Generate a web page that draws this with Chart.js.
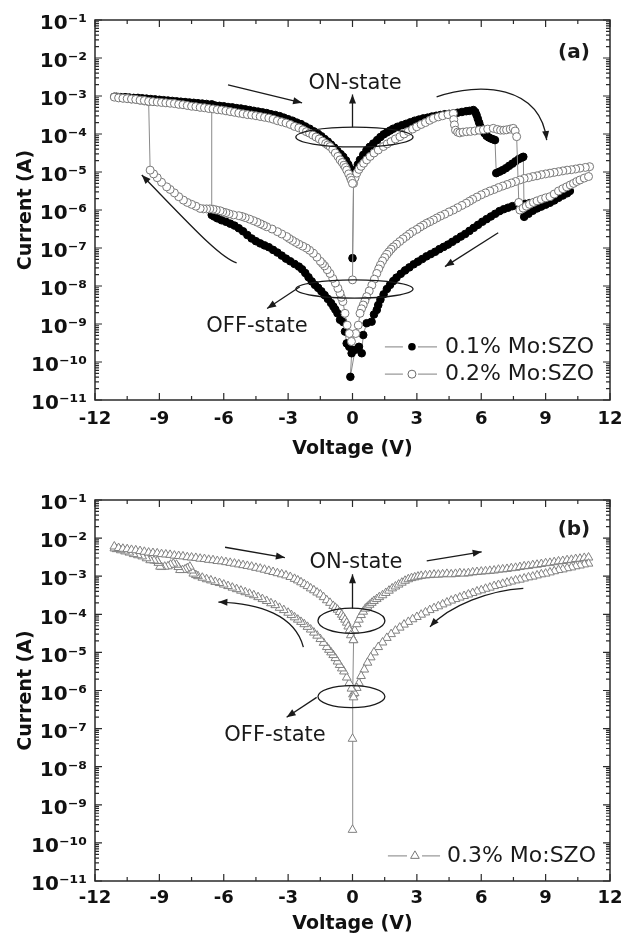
<!DOCTYPE html>
<html>
<head>
<meta charset="utf-8">
<script src="https://cdn.jsdelivr.net/npm/chart.js@4/dist/chart.umd.min.js"></script>
<style>
body{margin:0;background:#fff;}
#wrap{position:relative;width:635px;height:936px;}
canvas{position:absolute;left:0;}
</style>
</head>
<body>
<div id="wrap">
<canvas id="ca" width="635" height="468" style="top:0"></canvas>
<canvas id="cb" width="635" height="468" style="top:468px"></canvas>
</div>
<script>
// ---------- data (Voltage V, Current A), in sweep order ----------
const xTickValues = [-12, -9, -6, -3, 0, 3, 6, 9, 12];
const xTickLabels = ['-12', '-9', '-6', '-3', '0', '3', '6', '9', '12'];
const xMinorTicks = [-10.5, -7.5, -4.5, -1.5, 1.5, 4.5, 7.5, 10.5];
const yTickValues = [1e-11, 1e-10, 1e-9, 1e-8, 1e-7, 1e-6, 1e-5, 1e-4, 1e-3, 1e-2, 1e-1];
const yTickLabels = ['10⁻¹¹', '10⁻¹⁰', '10⁻⁹', '10⁻⁸', '10⁻⁷', '10⁻⁶', '10⁻⁵', '10⁻⁴', '10⁻³', '10⁻²', '10⁻¹'];
const xTitle = 'Voltage (V)';
const yTitle = 'Current (A)';
const seriesNamesA = ['0.1% Mo:SZO', '0.2% Mo:SZO'];
const seriesNamesB = ['0.3% Mo:SZO'];

// 0.1% Mo:SZO (filled circles)
const mo01 = [
[0.00,5.4e-8],
[0.05,7.6e-6],[0.15,1.12e-5],[0.25,1.58e-5],[0.35,2.09e-5],[0.50,2.82e-5],[0.65,3.72e-5],[0.80,4.57e-5],[0.97,5.62e-5],[1.15,6.92e-5],[1.30,8.32e-5],[1.45,9.77e-5],[1.60,1.10e-4],[1.75,1.23e-4],[1.90,1.38e-4],[2.10,1.55e-4],[2.30,1.70e-4],[2.50,1.86e-4],[2.70,2.04e-4],[2.90,2.24e-4],[3.10,2.40e-4],[3.30,2.57e-4],[3.50,2.69e-4],[3.70,2.88e-4],[3.90,3.02e-4],[4.10,3.16e-4],[4.30,3.31e-4],[4.50,3.39e-4],[4.70,3.47e-4],[4.90,3.63e-4],[5.10,3.80e-4],[5.30,3.98e-4],[5.45,4.07e-4],[5.63,4.27e-4],[5.72,3.80e-4],[5.78,3.16e-4],[5.84,2.51e-4],[5.90,2.00e-4],[5.96,1.58e-4],[6.05,1.26e-4],[6.15,1.05e-4],[6.25,8.91e-5],[6.35,8.13e-5],[6.45,7.59e-5],[6.55,7.24e-5],[6.64,6.92e-5],
[6.70,9.33e-6],[6.85,1.02e-5],[7.00,1.12e-5],[7.15,1.26e-5],[7.30,1.45e-5],[7.45,1.66e-5],[7.60,1.91e-5],[7.75,2.19e-5],[7.90,2.40e-5],[7.96,2.51e-5],
[8.00,6.61e-7],[8.20,7.94e-7],[8.40,9.55e-7],[8.60,1.10e-6],[8.80,1.23e-6],[9.00,1.38e-6],[9.20,1.55e-6],[9.40,1.78e-6],[9.60,2.09e-6],[9.80,2.40e-6],[10.00,2.75e-6],[10.13,3.16e-6],
[10.05,3.16e-6],[9.85,2.82e-6],[9.65,2.51e-6],[9.45,2.29e-6],[9.25,2.09e-6],[9.05,1.95e-6],[8.85,1.82e-6],[8.65,1.70e-6],[8.45,1.58e-6],[8.25,1.51e-6],[8.05,1.45e-6],[7.85,1.38e-6],[7.65,1.32e-6],[7.45,1.26e-6],[7.25,1.15e-6],[7.05,1.05e-6],[6.85,9.33e-7],[6.65,7.94e-7],[6.45,6.76e-7],[6.25,5.75e-7],[6.05,4.90e-7],[5.85,4.07e-7],[5.65,3.39e-7],[5.45,2.82e-7],[5.25,2.34e-7],[5.05,2.00e-7],[4.85,1.70e-7],[4.65,1.45e-7],[4.45,1.23e-7],[4.25,1.07e-7],[4.05,9.33e-8],[3.85,7.94e-8],[3.65,6.92e-8],[3.45,6.03e-8],[3.25,5.13e-8],[3.05,4.37e-8],[2.85,3.72e-8],[2.65,3.09e-8],[2.45,2.57e-8],[2.25,2.09e-8],[2.05,1.66e-8],[1.90,1.35e-8],[1.75,1.07e-8],[1.60,8.32e-9],[1.45,6.03e-9],[1.30,4.37e-9],[1.20,3.16e-9],[1.13,2.34e-9],[1.00,1.78e-9],[0.89,1.15e-9],[0.66,1.05e-9],[0.50,5.13e-10],[0.43,1.70e-10],[0.30,2.51e-10],[0.12,2.09e-10],[-0.10,4.07e-11],
[-0.04,1.70e-10],[-0.15,2.51e-10],[-0.27,3.09e-10],[-0.35,6.31e-10],[-0.43,1.12e-9],[-0.58,1.29e-9],[-0.70,1.91e-9],[-0.80,2.40e-9],[-0.89,2.88e-9],[-1.00,3.55e-9],[-1.15,4.57e-9],[-1.30,5.75e-9],[-1.45,7.24e-9],[-1.60,8.91e-9],[-1.75,1.07e-8],[-1.90,1.32e-8],[-2.05,1.70e-8],[-2.20,2.19e-8],[-2.35,2.75e-8],[-2.50,3.24e-8],[-2.70,3.80e-8],[-2.90,4.47e-8],[-3.10,5.25e-8],[-3.30,6.31e-8],[-3.50,7.59e-8],[-3.70,8.91e-8],[-3.90,1.05e-7],[-4.10,1.17e-7],[-4.30,1.32e-7],[-4.50,1.51e-7],[-4.70,1.78e-7],[-4.90,2.19e-7],[-5.10,2.75e-7],[-5.30,3.31e-7],[-5.50,3.89e-7],[-5.70,4.37e-7],[-5.90,4.90e-7],[-6.10,5.37e-7],[-6.30,6.03e-7],[-6.45,6.76e-7],[-6.56,7.41e-7],
[-6.56,6.03e-4],[-6.80,6.17e-4],[-7.00,6.31e-4],[-7.20,6.46e-4],[-7.40,6.61e-4],[-7.60,6.76e-4],[-7.80,6.92e-4],[-8.00,7.08e-4],[-8.20,7.24e-4],[-8.40,7.41e-4],[-8.60,7.59e-4],[-8.80,7.76e-4],[-9.00,7.94e-4],[-9.20,8.13e-4],[-9.40,8.32e-4],[-9.60,8.51e-4],[-9.80,8.71e-4],[-10.00,8.91e-4],[-10.20,8.91e-4],[-10.40,9.12e-4],[-10.60,9.33e-4],[-10.80,9.33e-4],[-11.00,9.55e-4],[-11.10,9.55e-4],
[-10.90,9.33e-4],[-10.50,8.91e-4],[-10.10,8.51e-4],[-9.70,8.13e-4],[-9.30,7.76e-4],[-8.90,7.41e-4],[-8.50,7.08e-4],[-8.10,6.76e-4],[-7.70,6.46e-4],[-7.30,6.17e-4],[-6.90,5.89e-4],[-6.60,5.75e-4],[-6.40,5.62e-4],[-6.20,5.50e-4],[-6.00,5.37e-4],[-5.80,5.13e-4],[-5.60,5.01e-4],[-5.40,4.79e-4],[-5.20,4.68e-4],[-5.00,4.47e-4],[-4.80,4.27e-4],[-4.60,4.07e-4],[-4.40,3.89e-4],[-4.20,3.72e-4],[-4.00,3.55e-4],[-3.80,3.31e-4],[-3.60,3.16e-4],[-3.40,2.95e-4],[-3.20,2.69e-4],[-3.00,2.45e-4],[-2.80,2.24e-4],[-2.60,2.00e-4],[-2.40,1.82e-4],[-2.20,1.58e-4],[-2.00,1.38e-4],[-1.80,1.17e-4],[-1.60,1.00e-4],[-1.45,8.71e-5],[-1.30,7.41e-5],[-1.15,6.31e-5],[-1.00,5.25e-5],[-0.85,4.37e-5],[-0.70,3.55e-5],[-0.55,2.95e-5],[-0.43,2.51e-5],[-0.30,2.00e-5],[-0.20,1.58e-5],[-0.12,1.26e-5],[-0.05,1.00e-5],[0.00,7.59e-6]
];

// 0.2% Mo:SZO (open circles)
const mo02 = [
[0.00,1.45e-8],
[0.05,5.01e-6],[0.12,7.08e-6],[0.20,9.33e-6],[0.30,1.17e-5],[0.40,1.41e-5],[0.52,1.70e-5],[0.66,2.09e-5],[0.82,2.57e-5],[1.00,3.16e-5],[1.20,3.80e-5],[1.44,4.68e-5],[1.62,5.50e-5],[1.80,6.31e-5],[2.00,7.41e-5],[2.21,8.51e-5],[2.40,1.00e-4],[2.60,1.17e-4],[2.80,1.35e-4],[2.99,1.55e-4],[3.20,1.78e-4],[3.40,2.00e-4],[3.60,2.29e-4],[3.77,2.57e-4],[4.00,2.82e-4],[4.20,3.02e-4],[4.45,3.24e-4],[4.70,3.47e-4],
[4.72,2.40e-4],[4.75,1.74e-4],[4.80,1.26e-4],[4.90,1.12e-4],[5.00,1.07e-4],[5.15,1.12e-4],[5.32,1.15e-4],[5.50,1.17e-4],[5.70,1.20e-4],[5.90,1.26e-4],[6.10,1.29e-4],[6.30,1.35e-4],[6.56,1.41e-4],[6.75,1.32e-4],[6.90,1.26e-4],[7.05,1.26e-4],[7.18,1.29e-4],[7.35,1.35e-4],[7.49,1.41e-4],[7.58,1.20e-4],[7.65,8.51e-5],
[7.75,1.58e-6],[7.80,1.00e-6],[7.95,1.12e-6],[8.10,1.26e-6],[8.25,1.41e-6],[8.43,1.58e-6],[8.60,1.74e-6],[8.80,1.91e-6],[9.00,2.09e-6],[9.20,2.24e-6],[9.40,2.63e-6],[9.60,3.16e-6],[9.80,3.63e-6],[9.98,4.07e-6],[10.15,4.57e-6],[10.30,5.01e-6],[10.45,5.62e-6],[10.60,6.17e-6],[10.80,6.92e-6],[11.00,7.59e-6],
[11.05,1.38e-5],[10.85,1.32e-5],[10.60,1.26e-5],[10.40,1.20e-5],[10.20,1.15e-5],[10.00,1.12e-5],[9.80,1.07e-5],[9.60,1.02e-5],[9.40,9.77e-6],[9.20,9.33e-6],[9.00,8.91e-6],[8.80,8.51e-6],[8.60,7.94e-6],[8.40,7.59e-6],[8.20,7.08e-6],[8.00,6.76e-6],[7.80,6.17e-6],[7.60,5.62e-6],[7.40,5.13e-6],[7.20,4.68e-6],[7.00,4.27e-6],[6.80,3.89e-6],[6.60,3.47e-6],[6.40,3.16e-6],[6.20,2.82e-6],[6.00,2.51e-6],[5.80,2.19e-6],[5.60,1.91e-6],[5.45,1.70e-6],[5.30,1.51e-6],[5.10,1.32e-6],[4.90,1.15e-6],[4.70,1.00e-6],[4.50,8.91e-7],[4.30,7.76e-7],[4.10,6.92e-7],[3.93,6.17e-7],[3.77,5.50e-7],[3.60,4.90e-7],[3.45,4.47e-7],[3.30,3.98e-7],[3.15,3.55e-7],[3.00,3.09e-7],[2.80,2.69e-7],[2.65,2.34e-7],[2.50,2.00e-7],[2.35,1.74e-7],[2.20,1.48e-7],[2.05,1.26e-7],[1.90,1.07e-7],[1.80,9.33e-8],[1.70,7.94e-8],[1.60,6.76e-8],[1.50,5.62e-8],[1.40,4.57e-8],[1.30,3.55e-8],[1.22,2.82e-8],[1.13,2.14e-8],[1.02,1.51e-8],[0.90,1.05e-8],[0.78,7.41e-9],[0.66,5.25e-9],[0.58,4.07e-9],[0.50,3.16e-9],[0.42,2.51e-9],[0.35,1.91e-9],[0.27,9.33e-10],[0.15,5.62e-10],
[-0.05,3.47e-10],[-0.15,5.62e-10],[-0.25,9.33e-10],[-0.35,1.91e-9],[-0.45,3.89e-9],[-0.52,5.01e-9],[-0.58,6.46e-9],[-0.68,8.71e-9],[-0.80,1.20e-8],[-0.92,1.58e-8],[-1.05,2.14e-8],[-1.18,2.69e-8],[-1.30,3.39e-8],[-1.40,3.89e-8],[-1.50,4.47e-8],[-1.66,5.75e-8],[-1.83,7.24e-8],[-2.00,8.71e-8],[-2.15,1.00e-7],[-2.32,1.12e-7],[-2.50,1.26e-7],[-2.65,1.41e-7],[-2.80,1.58e-7],[-2.95,1.78e-7],[-3.07,2.00e-7],[-3.30,2.34e-7],[-3.50,2.69e-7],[-3.75,3.16e-7],[-4.00,3.63e-7],[-4.15,3.98e-7],[-4.30,4.37e-7],[-4.45,4.79e-7],[-4.62,5.25e-7],[-4.80,5.75e-7],[-5.00,6.31e-7],[-5.15,6.76e-7],[-5.30,7.08e-7],[-5.55,7.41e-7],[-5.75,7.94e-7],[-5.90,8.51e-7],[-6.05,8.91e-7],[-6.17,9.55e-7],[-6.35,1.00e-6],[-6.50,1.05e-6],[-6.65,1.07e-6],[-6.80,1.07e-6],[-6.95,1.07e-6],[-7.10,1.10e-6],[-7.30,1.26e-6],[-7.50,1.41e-6],[-7.70,1.58e-6],[-7.88,1.82e-6],[-8.10,2.24e-6],[-8.30,2.82e-6],[-8.50,3.47e-6],[-8.66,4.07e-6],[-8.90,5.37e-6],[-9.10,7.08e-6],[-9.27,8.91e-6],[-9.43,1.12e-5],
[-9.50,7.08e-4],[-9.70,7.41e-4],[-9.90,7.76e-4],[-10.10,8.13e-4],[-10.30,8.32e-4],[-10.50,8.71e-4],[-10.70,8.91e-4],[-10.90,9.12e-4],[-11.10,9.33e-4],
[-10.90,8.91e-4],[-10.70,8.71e-4],[-10.50,8.51e-4],[-10.30,8.32e-4],[-10.10,8.13e-4],[-9.90,7.76e-4],[-9.70,7.59e-4],[-9.50,7.24e-4],[-9.30,7.08e-4],[-9.10,6.92e-4],[-8.90,6.76e-4],[-8.70,6.61e-4],[-8.50,6.46e-4],[-8.30,6.31e-4],[-8.10,6.03e-4],[-7.90,5.89e-4],[-7.70,5.62e-4],[-7.50,5.37e-4],[-7.30,5.25e-4],[-7.10,5.01e-4],[-6.90,4.90e-4],[-6.70,4.68e-4],[-6.50,4.57e-4],[-6.30,4.37e-4],[-6.10,4.27e-4],[-5.90,4.07e-4],[-5.70,3.89e-4],[-5.50,3.72e-4],[-5.30,3.55e-4],[-5.10,3.39e-4],[-4.90,3.24e-4],[-4.70,3.16e-4],[-4.50,3.02e-4],[-4.30,2.88e-4],[-4.10,2.75e-4],[-3.90,2.63e-4],[-3.70,2.45e-4],[-3.50,2.24e-4],[-3.30,2.09e-4],[-3.10,1.95e-4],[-2.90,1.78e-4],[-2.70,1.58e-4],[-2.50,1.45e-4],[-2.31,1.29e-4],[-2.15,1.15e-4],[-2.00,1.05e-4],[-1.85,9.33e-5],[-1.70,8.32e-5],[-1.55,7.41e-5],[-1.40,6.46e-5],[-1.25,5.62e-5],[-1.15,5.13e-5],[-1.05,4.68e-5],[-0.92,3.89e-5],[-0.80,3.16e-5],[-0.68,2.57e-5],[-0.58,2.09e-5],[-0.48,1.78e-5],[-0.40,1.51e-5],[-0.33,1.32e-5],[-0.27,1.12e-5],[-0.18,8.91e-6],[-0.10,7.08e-6],[-0.05,6.03e-6],[0.00,5.01e-6]
];

// 0.3% Mo:SZO (open triangles)
const mo03 = [
[0.00,2.2e-10],[0.00,5.4e-8],[0.02,7.9e-7],[0.05,2.1e-5],
[0.10,3.80e-5],[0.20,5.50e-5],[0.30,7.24e-5],[0.40,9.55e-5],[0.50,1.17e-4],[0.60,1.41e-4],[0.70,1.58e-4],[0.80,1.78e-4],[0.90,2.00e-4],[1.00,2.24e-4],[1.13,2.51e-4],[1.25,2.82e-4],[1.40,3.16e-4],[1.55,3.63e-4],[1.70,4.17e-4],[1.85,4.79e-4],[2.00,5.37e-4],[2.15,6.03e-4],[2.30,6.76e-4],[2.45,7.59e-4],[2.60,8.32e-4],[2.75,8.91e-4],[2.90,9.33e-4],[3.05,9.77e-4],[3.20,1.02e-3],[3.40,1.05e-3],[3.60,1.07e-3],[3.80,1.10e-3],[4.00,1.10e-3],[4.20,1.12e-3],[4.40,1.15e-3],[4.60,1.12e-3],[4.80,1.15e-3],[5.00,1.20e-3],[5.20,1.17e-3],[5.40,1.20e-3],[5.60,1.26e-3],[5.80,1.29e-3],[6.00,1.32e-3],[6.20,1.35e-3],[6.40,1.38e-3],[6.60,1.41e-3],[6.80,1.48e-3],[7.00,1.51e-3],[7.20,1.55e-3],[7.40,1.62e-3],[7.60,1.66e-3],[7.80,1.74e-3],[8.00,1.82e-3],[8.20,1.86e-3],[8.40,1.95e-3],[8.60,2.00e-3],[8.80,2.09e-3],[9.00,2.19e-3],[9.20,2.24e-3],[9.40,2.34e-3],[9.60,2.45e-3],[9.80,2.51e-3],[10.00,2.63e-3],[10.20,2.69e-3],[10.40,2.82e-3],[10.60,2.88e-3],[10.80,3.02e-3],[11.00,3.09e-3],
[11.00,2.14e-3],[10.80,2.04e-3],[10.60,1.91e-3],[10.40,1.82e-3],[10.20,1.70e-3],[10.00,1.62e-3],[9.80,1.51e-3],[9.60,1.45e-3],[9.40,1.35e-3],[9.20,1.26e-3],[9.00,1.17e-3],[8.80,1.12e-3],[8.60,1.05e-3],[8.40,9.77e-4],[8.20,9.33e-4],[8.00,8.71e-4],[7.80,8.13e-4],[7.60,7.76e-4],[7.40,7.24e-4],[7.20,6.76e-4],[7.00,6.31e-4],[6.80,5.89e-4],[6.60,5.50e-4],[6.40,5.01e-4],[6.20,4.68e-4],[6.00,4.27e-4],[5.80,3.98e-4],[5.60,3.63e-4],[5.40,3.31e-4],[5.20,3.02e-4],[5.00,2.75e-4],[4.80,2.51e-4],[4.60,2.29e-4],[4.40,2.04e-4],[4.20,1.82e-4],[4.00,1.62e-4],[3.80,1.45e-4],[3.60,1.29e-4],[3.40,1.12e-4],[3.20,9.77e-5],[3.00,8.51e-5],[2.80,7.41e-5],[2.60,6.31e-5],[2.40,5.37e-5],[2.20,4.47e-5],[2.00,3.72e-5],[1.80,3.02e-5],[1.60,2.40e-5],[1.40,1.82e-5],[1.20,1.38e-5],[1.00,1.00e-5],[0.85,7.41e-6],[0.70,5.37e-6],[0.55,3.55e-6],[0.40,2.40e-6],[0.30,1.58e-6],[0.20,1.17e-6],[0.10,8.51e-7],[0.05,6.61e-7],
[-0.05,1.12e-6],[-0.15,1.58e-6],[-0.27,2.19e-6],[-0.40,3.16e-6],[-0.50,3.80e-6],[-0.60,4.68e-6],[-0.70,5.75e-6],[-0.80,7.08e-6],[-0.90,8.51e-6],[-1.00,1.00e-5],[-1.10,1.17e-5],[-1.20,1.38e-5],[-1.35,1.78e-5],[-1.50,2.24e-5],[-1.65,2.75e-5],[-1.80,3.31e-5],[-1.95,3.98e-5],[-2.10,4.68e-5],[-2.25,5.50e-5],[-2.40,6.31e-5],[-2.55,7.24e-5],[-2.70,8.32e-5],[-2.85,9.55e-5],[-3.00,1.10e-4],[-3.20,1.29e-4],[-3.40,1.48e-4],[-3.60,1.74e-4],[-3.80,1.95e-4],[-4.00,2.24e-4],[-4.20,2.51e-4],[-4.40,2.82e-4],[-4.60,3.16e-4],[-4.80,3.47e-4],[-5.00,3.80e-4],[-5.20,4.17e-4],[-5.40,4.57e-4],[-5.60,5.01e-4],[-5.80,5.50e-4],[-6.00,6.03e-4],[-6.20,6.61e-4],[-6.40,7.08e-4],[-6.60,7.76e-4],[-6.80,8.32e-4],[-7.00,9.12e-4],[-7.20,1.00e-3],[-7.30,1.07e-3],[-7.42,1.17e-3],[-7.50,1.41e-3],[-7.58,1.78e-3],[-7.70,1.62e-3],[-7.80,1.51e-3],[-7.92,1.45e-3],[-8.04,1.45e-3],[-8.12,1.74e-3],[-8.20,2.00e-3],[-8.35,2.14e-3],[-8.48,2.00e-3],[-8.60,1.82e-3],[-8.75,1.78e-3],[-8.90,1.74e-3],[-8.97,1.78e-3],[-9.05,2.24e-3],[-9.10,2.51e-3],[-9.25,2.57e-3],[-9.43,2.63e-3],[-9.60,2.95e-3],[-9.80,3.31e-3],[-10.00,3.55e-3],[-10.20,3.80e-3],[-10.40,4.17e-3],[-10.60,4.47e-3],[-10.80,4.79e-3],[-11.00,5.13e-3],[-11.10,5.37e-3],
[-11.10,6.03e-3],[-10.90,5.50e-3],[-10.70,5.25e-3],[-10.50,5.13e-3],[-10.30,4.90e-3],[-10.10,4.79e-3],[-9.90,4.57e-3],[-9.70,4.37e-3],[-9.50,4.17e-3],[-9.30,4.07e-3],[-9.10,3.98e-3],[-8.90,3.80e-3],[-8.70,3.72e-3],[-8.50,3.63e-3],[-8.30,3.47e-3],[-8.10,3.39e-3],[-7.90,3.31e-3],[-7.70,3.16e-3],[-7.50,3.09e-3],[-7.30,3.02e-3],[-7.10,2.88e-3],[-6.90,2.82e-3],[-6.70,2.69e-3],[-6.50,2.63e-3],[-6.30,2.51e-3],[-6.10,2.45e-3],[-5.90,2.34e-3],[-5.70,2.24e-3],[-5.50,2.14e-3],[-5.30,2.04e-3],[-5.10,1.95e-3],[-4.90,1.86e-3],[-4.70,1.78e-3],[-4.50,1.66e-3],[-4.30,1.58e-3],[-4.10,1.48e-3],[-3.90,1.38e-3],[-3.70,1.29e-3],[-3.50,1.20e-3],[-3.30,1.12e-3],[-3.10,1.05e-3],[-2.90,9.55e-4],[-2.70,8.51e-4],[-2.55,7.76e-4],[-2.40,6.92e-4],[-2.25,6.17e-4],[-2.10,5.50e-4],[-1.95,4.79e-4],[-1.80,4.27e-4],[-1.65,3.72e-4],[-1.50,3.31e-4],[-1.35,2.82e-4],[-1.20,2.34e-4],[-1.05,2.00e-4],[-0.90,1.66e-4],[-0.80,1.48e-4],[-0.70,1.32e-4],[-0.60,1.15e-4],[-0.50,9.77e-5],[-0.43,8.51e-5],[-0.35,7.24e-5],[-0.27,6.03e-5],[-0.20,4.79e-5],[-0.14,3.80e-5],[-0.08,2.82e-5],[0.04,2.09e-5]
];

// ---------- annotation placement (in axis units: V, log10 A) ----------
const annA = {
  texts: [
    {t: 'ON-state', v: 0.12, l: -2.66, font: '21px "DejaVu Sans"'},
    {t: 'OFF-state', v: -4.45, l: -9.08, font: '21px "DejaVu Sans"'},
    {t: '(a)', v: 10.32, l: -1.87, font: 'bold 20px "DejaVu Sans"'}
  ],
  arrows: [
    [[-5.80, -2.71], [-2.35, -3.18]],
    [[0, -3.82], [0, -2.96]],
    [[3.92, -3.02], [5.94, -2.63], [8.74, -2.71], [9.05, -4.16]],
    [[6.79, -6.60], [4.31, -7.49]],
    [[-5.40, -7.39], [-6.17, -7.26], [-7.57, -6.39], [-9.82, -5.08]],
    [[-2.45, -8.02], [-3.98, -8.59]]
  ],
  ellipses: [
    {v: 0.09, l: -4.08, dv: 2.73, dl: 0.26},
    {v: 0.09, l: -8.08, dv: 2.73, dl: 0.24}
  ],
  legend: [
    {name: seriesNamesA[0], l: -9.60, s1: [1.51, 2.35], m: 2.77, s2: [3.05, 3.94], tx: 4.31, style: 'filled'},
    {name: seriesNamesA[1], l: -10.32, s1: [1.51, 2.35], m: 2.77, s2: [3.05, 3.94], tx: 4.31, style: 'open'}
  ]
};
const annB = {
  texts: [
    {t: 'ON-state', v: 0.16, l: -2.63, font: '21px "DejaVu Sans"'},
    {t: 'OFF-state', v: -3.61, l: -7.18, font: '21px "DejaVu Sans"'},
    {t: '(b)', v: 10.32, l: -1.79, font: 'bold 20px "DejaVu Sans"'}
  ],
  arrows: [
    [[-5.94, -2.24], [-3.15, -2.51]],
    [[-2.29, -4.86], [-2.68, -4.03], [-4.31, -3.71], [-6.25, -3.68]],
    [[0, -3.85], [0, -2.95]],
    [[3.46, -2.60], [6.02, -2.36]],
    [[7.96, -3.32], [6.41, -3.37], [4.54, -3.76], [3.61, -4.33]],
    [[-1.67, -6.18], [-3.07, -6.70]]
  ],
  ellipses: [
    {v: -0.05, l: -4.17, dv: 1.56, dl: 0.33},
    {v: -0.05, l: -6.16, dv: 1.56, dl: 0.29}
  ],
  legend: [
    {name: seriesNamesB[0], l: -10.34, s1: [1.65, 2.54], m: 2.91, s2: [3.24, 4.08], tx: 4.40, style: 'tri'}
  ]
};

// ---------- drawing ----------
Chart.defaults.font.family = '"DejaVu Sans"';
Chart.defaults.color = '#111';

function toPts(arr) { return arr.map(p => ({x: p[0], y: p[1]})); }

function drawMarker(ctx, style, x, y) {
  ctx.save();
  ctx.lineWidth = 1;
  if (style === 'filled') {
    ctx.fillStyle = '#000';
    ctx.beginPath(); ctx.arc(x, y, 3.8, 0, Math.PI * 2); ctx.fill();
  } else if (style === 'open') {
    ctx.fillStyle = '#fff'; ctx.strokeStyle = '#6a6a6a';
    ctx.beginPath(); ctx.arc(x, y, 4, 0, Math.PI * 2); ctx.fill(); ctx.stroke();
  } else {
    const r = 5;
    ctx.fillStyle = '#fff'; ctx.strokeStyle = '#777';
    ctx.beginPath();
    for (let k = 0; k < 3; k++) {
      const a = k * 2 * Math.PI / 3;
      const px = x + Math.sin(a) * r, py = y - Math.cos(a) * r;
      if (k === 0) ctx.moveTo(px, py); else ctx.lineTo(px, py);
    }
    ctx.closePath(); ctx.fill(); ctx.stroke();
  }
  ctx.restore();
}

const frame = {
  id: 'frame',
  afterDatasetsDraw(chart, args, opts) {
    const {ctx, chartArea: a, scales: {x, y}} = chart;
    const X = v => x.getPixelForValue(v);
    const Y = l => y.getPixelForValue(Math.pow(10, l));
    ctx.save();
    ctx.strokeStyle = '#2a2a2a';
    ctx.lineWidth = 1.5;
    ctx.strokeRect(a.left, a.top, a.right - a.left, a.bottom - a.top);
    ctx.lineWidth = 1.2;
    ctx.beginPath();
    const tx = (v, len) => {
      const p = x.getPixelForValue(v);
      ctx.moveTo(p, a.bottom); ctx.lineTo(p, a.bottom - len);
      ctx.moveTo(p, a.top); ctx.lineTo(p, a.top + len);
    };
    const ty = (v, len) => {
      const p = y.getPixelForValue(v);
      ctx.moveTo(a.left, p); ctx.lineTo(a.left + len, p);
      ctx.moveTo(a.right, p); ctx.lineTo(a.right - len, p);
    };
    xTickValues.forEach(v => tx(v, 7));
    xMinorTicks.forEach(v => tx(v, 4));
    yTickValues.forEach((d, i) => {
      ty(d, 7);
      if (i < yTickValues.length - 1) for (let m = 2; m <= 9; m++) ty(m * d, 4);
    });
    ctx.stroke();

    const ann = opts.ann;
    if (!ann) { ctx.restore(); return; }
    ctx.strokeStyle = '#1a1a1a';
    ctx.fillStyle = '#1a1a1a';
    ctx.lineWidth = 1.3;
    ann.ellipses.forEach(e => {
      const cx = X(e.v), cy = Y(e.l);
      const rx = X(e.v + e.dv) - cx, ry = cy - Y(e.l + e.dl);
      ctx.beginPath(); ctx.ellipse(cx, cy, rx, ry, 0, 0, Math.PI * 2); ctx.stroke();
    });
    ann.arrows.forEach(pts => {
      const P = pts.map(p => [X(p[0]), Y(p[1])]);
      ctx.beginPath();
      ctx.moveTo(P[0][0], P[0][1]);
      if (P.length === 4) ctx.bezierCurveTo(P[1][0], P[1][1], P[2][0], P[2][1], P[3][0], P[3][1]);
      else ctx.lineTo(P[1][0], P[1][1]);
      ctx.stroke();
      const tip = P[P.length - 1], prev = P[P.length - 2];
      const ang = Math.atan2(tip[1] - prev[1], tip[0] - prev[0]);
      const L = 9, W = 3.5;
      ctx.beginPath();
      ctx.moveTo(tip[0], tip[1]);
      ctx.lineTo(tip[0] - L * Math.cos(ang) + W * Math.sin(ang), tip[1] - L * Math.sin(ang) - W * Math.cos(ang));
      ctx.lineTo(tip[0] - L * Math.cos(ang) - W * Math.sin(ang), tip[1] - L * Math.sin(ang) + W * Math.cos(ang));
      ctx.closePath(); ctx.fill();
    });
    ctx.textAlign = 'center';
    ctx.textBaseline = 'middle';
    ann.texts.forEach(t => {
      ctx.font = t.font;
      ctx.fillStyle = '#1a1a1a';
      ctx.fillText(t.t, X(t.v), Y(t.l));
    });
    ann.legend.forEach(it => {
      const py = Y(it.l);
      ctx.strokeStyle = '#9a9a9a'; ctx.lineWidth = 1.2;
      ctx.beginPath();
      ctx.moveTo(X(it.s1[0]), py); ctx.lineTo(X(it.s1[1]), py);
      ctx.moveTo(X(it.s2[0]), py); ctx.lineTo(X(it.s2[1]), py);
      ctx.stroke();
      drawMarker(ctx, it.style, X(it.m), py);
      ctx.font = '22px "DejaVu Sans"';
      ctx.fillStyle = '#1a1a1a';
      ctx.textAlign = 'left';
      ctx.fillText(it.name, X(it.tx), py);
    });
    ctx.restore();
  }
};

function makeChart(id, datasets, ann, padTop, xH, tickPad, titlePadB) {
  return new Chart(document.getElementById(id), {
    type: 'scatter',
    data: {datasets},
    options: {
      responsive: false,
      animation: false,
      devicePixelRatio: 1,
      layout: {padding: {top: padTop, right: 25, left: 0, bottom: 0}},
      plugins: {legend: {display: false}, tooltip: {enabled: false}, frame: {ann}},
      scales: {
        x: {
          type: 'linear', min: -12, max: 12,
          grid: {display: false, drawTicks: false},
          border: {display: false},
          afterBuildTicks: s => { s.ticks = xTickValues.map(v => ({value: v})); },
          afterFit: s => { s.height = xH; },
          ticks: {autoSkip: false, maxRotation: 0, padding: tickPad,
                  font: {size: 18, weight: 'bold'}, color: '#111',
                  callback: (v, i) => xTickLabels[i]},
          title: {display: true, text: xTitle, font: {size: 19, weight: 'bold'}, color: '#111',
                  padding: {top: 0, bottom: titlePadB}}
        },
        y: {
          type: 'logarithmic', min: 1e-11, max: 1e-1,
          grid: {display: false, drawTicks: false},
          border: {display: false},
          afterBuildTicks: s => { s.ticks = yTickValues.map(v => ({value: v})); },
          afterFit: s => { s.width = 95; },
          ticks: {autoSkip: false, padding: 8, labelOffset: 4,
                  font: {size: 20, weight: 'bold'}, color: '#111',
                  callback: (v, i) => yTickLabels[i]},
          title: {display: true, text: yTitle, font: {size: 19, weight: 'bold'}, color: '#111',
                  padding: {top: 15, bottom: 0}}
        }
      }
    },
    plugins: [frame]
  });
}

makeChart('ca', [
  {label: seriesNamesA[0], data: toPts(mo01), showLine: true, borderColor: '#8a8a8a', borderWidth: 1,
   pointRadius: 3.8, pointBackgroundColor: '#000', pointBorderColor: '#000', pointBorderWidth: 1, order: 2},
  {label: seriesNamesA[1], data: toPts(mo02), showLine: true, borderColor: '#8a8a8a', borderWidth: 1,
   pointRadius: 4, pointBackgroundColor: '#fff', pointBorderColor: '#777', pointBorderWidth: 1, order: 1}
], annA, 20, 68, 9, 8);

makeChart('cb', [
  {label: seriesNamesB[0], data: toPts(mo03), showLine: true, borderColor: '#8a8a8a', borderWidth: 1,
   pointStyle: 'triangle', pointRadius: 5, pointBackgroundColor: '#fff', pointBorderColor: '#808080', pointBorderWidth: 1}
], annB, 32, 55, 7, 1);
</script>
</body>
</html>
